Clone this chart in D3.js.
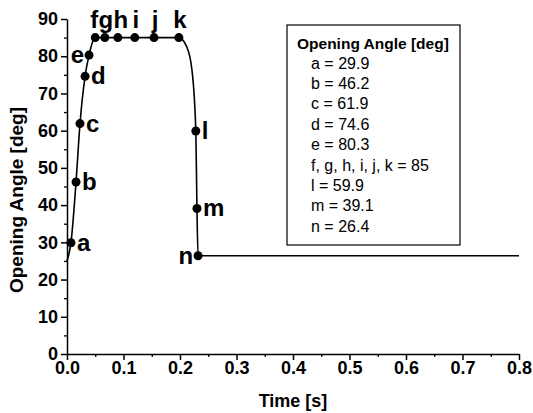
<!DOCTYPE html>
<html>
<head>
<meta charset="utf-8">
<script src="https://cdn.jsdelivr.net/npm/d3@7"></script>
<style>
  body { margin: 0; background: #fff; }
  svg { font-family: Arial, "Liberation Sans", sans-serif; }
</style>
</head>
<body>
<svg id="chart" width="533" height="413"></svg>
<script>
// Marked points
const pointLabels = ["a", "b", "c", "d", "e", "f", "g", "h", "i", "j", "k", "l", "m", "n"];
const pointTimes  = [0.007, 0.016, 0.023, 0.032, 0.039, 0.050, 0.067, 0.090, 0.120, 0.154, 0.198, 0.228, 0.230, 0.232];
const pointAngles = [29.9, 46.2, 61.9, 74.6, 80.3, 85, 85, 85, 85, 85, 85, 59.9, 39.1, 26.4];

// Unmarked points of the trace (start, the bend after k, and the end)
const shapeTimes  = [0, 0.212, 0.221, 0.8];
const shapeAngles = [25, 82.5, 76.5, 26.4];

// Axis ticks
const xTicks = [0, 0.1, 0.2, 0.3, 0.4, 0.5, 0.6, 0.7, 0.8];
const xMinor = [0.05, 0.15, 0.25, 0.35, 0.45, 0.55, 0.65, 0.75];
const yTicks = [0, 10, 20, 30, 40, 50, 60, 70, 80, 90];
const yMinor = [5, 15, 25, 35, 45, 55, 65, 75, 85];

// Legend text
const legendTitle = "Opening Angle [deg]";
const legendLines = ["a = 29.9", "b = 46.2", "c = 61.9", "d = 74.6", "e = 80.3",
                     "f, g, h, i, j, k = 85", "l = 59.9", "m = 39.1", "n = 26.4"];

const svg = d3.select("#chart");
const margin = {top: 19, right: 14, bottom: 59, left: 67};
const width = 533, height = 413;

const x = d3.scaleLinear().domain([0, 0.8]).range([margin.left, width - margin.right]);
const y = d3.scaleLinear().domain([0, 90]).range([height - margin.bottom, margin.top]);

const points = pointTimes.map((t, i) => ({t: t, v: pointAngles[i], label: pointLabels[i]}));
const curve = points.concat(shapeTimes.map((t, i) => ({t: t, v: shapeAngles[i]})))
    .sort((p, q) => p.t - q.t);

// minor ticks first so the major axis sits on top
svg.append("g")
    .attr("transform", `translate(0,${y(0)})`)
    .call(d3.axisBottom(x).tickValues(xMinor).tickSize(3).tickFormat(""))
    .call(g => g.select(".domain").remove())
    .call(g => g.selectAll("line").attr("stroke-width", 1.3));

svg.append("g")
    .attr("transform", `translate(${x(0)},0)`)
    .call(d3.axisLeft(y).tickValues(yMinor).tickSize(3).tickFormat(""))
    .call(g => g.select(".domain").remove())
    .call(g => g.selectAll("line").attr("stroke-width", 1.3));

const xAxis = svg.append("g")
    .attr("transform", `translate(0,${y(0)})`)
    .call(d3.axisBottom(x).tickValues(xTicks).tickSize(6).tickSizeOuter(0)
        .tickPadding(1).tickFormat(d3.format(".1f")));

const yAxis = svg.append("g")
    .attr("transform", `translate(${x(0)},0)`)
    .call(d3.axisLeft(y).tickValues(yTicks).tickSize(6).tickSizeOuter(0)
        .tickPadding(3).tickFormat(d3.format("d")));

[xAxis, yAxis].forEach(g => {
    g.select(".domain").attr("stroke-width", 1.5);
    g.selectAll(".tick line").attr("stroke-width", 1.5);
    g.selectAll(".tick text")
        .attr("font-size", "18px")
        .attr("font-weight", "bold")
        .attr("fill", "#000");
});

// axis titles
svg.append("text")
    .attr("x", (x(0) + x(0.8)) / 2)
    .attr("y", 407)
    .attr("text-anchor", "middle")
    .attr("font-size", "18px")
    .attr("font-weight", "bold")
    .text("Time [s]");

svg.append("text")
    .attr("transform", `translate(23,200) rotate(-90)`)
    .attr("text-anchor", "middle")
    .attr("font-size", "19px")
    .attr("font-weight", "bold")
    .text("Opening Angle [deg]");

// trace
const line = d3.line()
    .x(d => x(d.t))
    .y(d => y(d.v))
    .curve(d3.curveMonotoneX);

svg.append("path")
    .datum(curve)
    .attr("fill", "none")
    .attr("stroke", "#000")
    .attr("stroke-width", 1.6)
    .attr("d", line);

svg.selectAll("circle.pt")
    .data(points)
    .join("circle")
    .attr("class", "pt")
    .attr("cx", d => x(d.t))
    .attr("cy", d => y(d.v))
    .attr("r", 4.5)
    .attr("fill", "#000");

// point letters: which side of the dot each sits on
const side = {a: "right", b: "right", c: "right", d: "right", e: "left",
              f: "top", g: "top", h: "top", i: "top", j: "top", k: "top",
              l: "right", m: "right", n: "left"};
// small sideways nudges for the crowded letters above the plateau
const nudge = {f: -1, g: 1, h: 3, i: 1, j: 1, k: 1};

svg.selectAll("text.lbl")
    .data(points)
    .join("text")
    .attr("class", "lbl")
    .attr("x", d => side[d.label] === "right" ? x(d.t) + 6
                  : side[d.label] === "left" ? x(d.t) - 5
                  : x(d.t) + nudge[d.label])
    .attr("y", d => side[d.label] === "top" ? y(d.v) - 10 : y(d.v) + 8)
    .attr("text-anchor", d => side[d.label] === "right" ? "start" : side[d.label] === "left" ? "end" : "middle")
    .attr("font-size", "24px")
    .attr("font-weight", "bold")
    .text(d => d.label);

// legend box
const legend = svg.append("g").attr("transform", "translate(287,25)");
legend.append("rect")
    .attr("width", 173)
    .attr("height", 220)
    .attr("fill", "#fff")
    .attr("stroke", "#000")
    .attr("stroke-width", 1.2);

legend.append("text")
    .attr("x", 10)
    .attr("y", 24)
    .attr("font-size", "15.5px")
    .attr("font-weight", "bold")
    .text(legendTitle);

legend.selectAll("text.entry")
    .data(legendLines)
    .join("text")
    .attr("class", "entry")
    .attr("x", 24)
    .attr("y", (d, i) => 43.5 + i * 20.4)
    .attr("font-size", "16px")
    .text(d => d);
</script>
</body>
</html>
